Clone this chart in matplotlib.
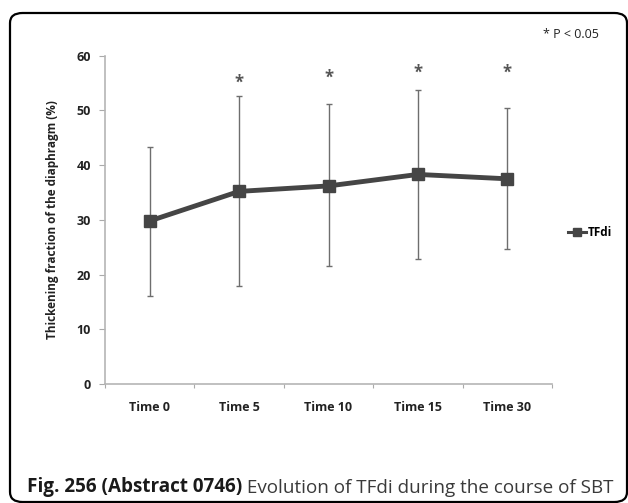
import numpy as np
import matplotlib.pyplot as plt
from matplotlib.patches import FancyBboxPatch

# data
times = ["Time 0", "Time 5", "Time 10", "Time 15", "Time 30"]
tfdi_mean = [29.8, 35.2, 36.2, 38.3, 37.5]
tfdi_upper = [43.4, 52.7, 51.1, 53.7, 50.4]
tfdi_lower = [16.0, 18.0, 21.6, 22.9, 24.6]
star_y = [None, 55.0, 56.0, 56.9, 56.9]

plt.rcParams['font.family'] = ['Open Sans', 'DejaVu Sans']

fig = plt.figure(figsize=(6.28, 5.03), dpi=100)
ax = fig.add_axes([105/628, 1-384/503, (552-105)/628, (384-55.7)/503])

x = np.arange(len(times))
mean = np.array(tfdi_mean)
yerr = [mean - np.array(tfdi_lower), np.array(tfdi_upper) - mean]

ax.errorbar(x, mean, yerr=yerr, fmt='none', ecolor='#6e6e6e', elinewidth=1.0,
            capsize=2.0, capthick=1.0, zorder=2)
line, = ax.plot(x, mean, color='#454545', lw=3.5, marker='s', markersize=8,
                markerfacecolor='#454545', markeredgecolor='#454545', zorder=3)

for xi, sy in zip(x, star_y):
    if sy is not None:
        ax.text(xi, sy, "*", ha='center', va='center', fontsize=12,
                color='#555555', fontweight='bold')

ax.set_xlim(-0.5, len(times) - 0.5)
ax.set_ylim(0, 60)
ax.set_yticks(range(0, 61, 10))
ax.set_xticks(np.arange(-0.5, len(times), 1.0))
ax.set_xticklabels([])
ax.set_xticks(x, minor=True)
ax.set_xticklabels(times, minor=True)
ax.tick_params(axis='x', which='major', length=3, color='#aaaaaa', direction='out')
ax.tick_params(axis='x', which='minor', length=0, pad=12)
ax.tick_params(axis='y', length=4, color='#aaaaaa', pad=6)
for lbl in ax.get_xticklabels(minor=True) + ax.get_yticklabels():
    lbl.set_fontweight('bold')
    lbl.set_fontsize(9)
    lbl.set_color('#222222')

for side in ['top', 'right']:
    ax.spines[side].set_visible(False)
for side in ['left', 'bottom']:
    ax.spines[side].set_color('#b5b5b5')
    ax.spines[side].set_linewidth(1.2)

ax.set_ylabel("Thickening fraction of the diaphragm (%)", fontsize=8.5,
              fontweight='bold', color='#222222', labelpad=13)

# legend
leg = fig.legend([line], ["TFdi"], loc='center left',
                 bbox_to_anchor=(562/628, 1-233/503), frameon=False,
                 handlelength=1.5, handletextpad=0.15, borderpad=0,
                 prop={'weight': 'bold', 'size': 8.5})
leg.get_lines()[0].set_markersize(5.5)
leg.get_lines()[0].set_linewidth(2.2)

fig.text(543/628, 1-35/503, "* P < 0.05", fontsize=9, color='#222222',
         va='center', ha='left')

# caption
t1 = fig.text(27/628, 1-487/503, "Fig. 256 (Abstract 0746)", fontsize=13.6,
              fontweight='bold', color='#1a1a1a', va='center', ha='left')
ax.annotate(" Evolution of TFdi during the course of SBT", xy=(1, 0),
            xycoords=t1, va='bottom', ha='left', fontsize=13.6,
            color='#3a3a3a', annotation_clip=False)

# rounded outer frame
box = FancyBboxPatch((10/628, 1-502/503), (627-10)/628, (502-13)/503,
                     boxstyle="round,pad=0,rounding_size=0.02",
                     transform=fig.transFigure, fill=False,
                     edgecolor='black', linewidth=1.6)
fig.patches.append(box)

fig.savefig('out.png', dpi=100)
